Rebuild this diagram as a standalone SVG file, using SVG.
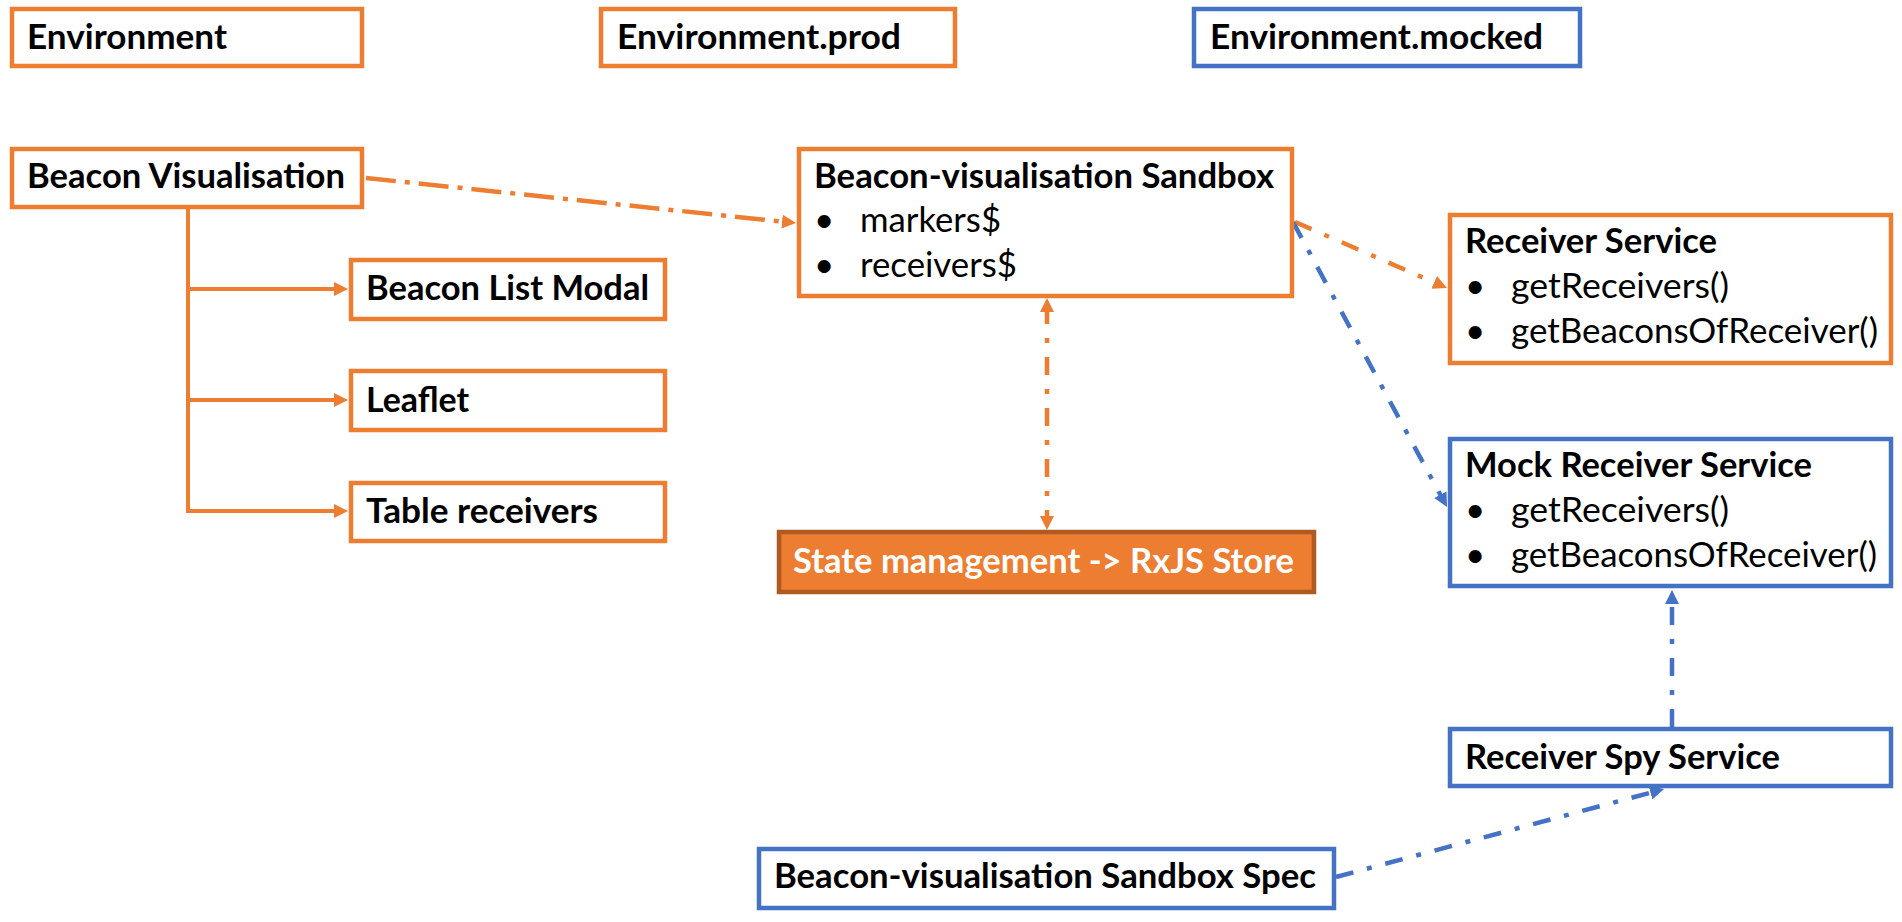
<svg xmlns="http://www.w3.org/2000/svg" width="1902" height="922" viewBox="0 0 1902 922">
<style>
  .bo { fill: #FFFFFF; stroke: #ED7D31; stroke-width: 4.5; }
  .bb { fill: #FFFFFF; stroke: #4472C4; stroke-width: 4.5; }
  .st { fill: #ED7D31; stroke: #AE5A21; stroke-width: 4.5; }
  .t { font-family: Lato, "Liberation Sans", sans-serif; font-weight: 700; font-size: 34px; fill: #000000; }
  .r { font-family: Lato, "Liberation Sans", sans-serif; font-weight: 400; font-size: 35px; fill: #000000; }
  .w { fill: #FFFFFF; }
  .co { fill: none; stroke: #ED7D31; stroke-width: 4.5; }
  .cb { fill: none; stroke: #4472C4; stroke-width: 4.5; }
  .solid { stroke-width: 4; }
  .dd { stroke-dasharray: 18 14 5 14; }
  .ld { stroke-dasharray: 30 9 5 9; }
</style>
<defs>
  <marker id="ao" markerUnits="userSpaceOnUse" markerWidth="16" markerHeight="16" refX="6" refY="7" orient="auto-start-reverse" viewBox="0 0 16 16">
    <path d="M0,0 L14,7 L0,14 z" fill="#ED7D31"/>
  </marker>
  <marker id="ab" markerUnits="userSpaceOnUse" markerWidth="16" markerHeight="16" refX="6" refY="7" orient="auto-start-reverse" viewBox="0 0 16 16">
    <path d="M0,0 L14,7 L0,14 z" fill="#4472C4"/>
  </marker>
</defs>
<rect width="1902" height="922" fill="#FFFFFF"/>

<g id="connectors">
  <path class="co solid" d="M188,209 V511 H340" marker-end="url(#ao)"/>
  <path class="co solid" d="M188,289 H340" marker-end="url(#ao)"/>
  <path class="co solid" d="M188,400 H340" marker-end="url(#ao)"/>
  <path class="co ld" d="M366,178 L788,222.2" marker-end="url(#ao)"/>
  <path class="co dd" d="M1295,222 L1439.7,284.8" marker-end="url(#ao)"/>
  <path class="cb dd" d="M1293,222 L1443.2,500" marker-end="url(#ab)"/>
  <path class="co dd" d="M1047,306 V522" marker-start="url(#ao)" marker-end="url(#ao)"/>
  <path class="cb dd" d="M1672,727 V598" marker-end="url(#ab)"/>
  <path class="cb dd" d="M1336,877 L1656.3,791.1" marker-end="url(#ab)"/>
</g>

<g id="environment">
  <rect class="bo" x="12" y="9" width="350" height="57"/>
  <text class="t" x="27" y="49" textLength="200" lengthAdjust="spacingAndGlyphs">Environment</text>
</g>
<g id="environment-prod">
  <rect class="bo" x="601" y="9" width="354" height="57"/>
  <text class="t" x="617" y="49" textLength="284" lengthAdjust="spacingAndGlyphs">Environment.prod</text>
</g>
<g id="environment-mocked">
  <rect class="bb" x="1194" y="9" width="386" height="57"/>
  <text class="t" x="1210" y="49" textLength="333" lengthAdjust="spacingAndGlyphs">Environment.mocked</text>
</g>

<g id="beacon-visualisation">
  <rect class="bo" x="12" y="149" width="350" height="58"/>
  <text class="t" x="27" y="188" textLength="318" lengthAdjust="spacingAndGlyphs">Beacon Visualisation</text>
</g>
<g id="beacon-list-modal">
  <rect class="bo" x="351" y="260" width="314" height="59"/>
  <text class="t" x="366" y="300" textLength="283" lengthAdjust="spacingAndGlyphs">Beacon List Modal</text>
</g>
<g id="leaflet">
  <rect class="bo" x="351" y="371" width="314" height="59"/>
  <text class="t" x="366" y="412" textLength="103" lengthAdjust="spacingAndGlyphs">Leaflet</text>
</g>
<g id="table-receivers">
  <rect class="bo" x="351" y="483" width="314" height="58"/>
  <text class="t" x="366" y="523" textLength="232" lengthAdjust="spacingAndGlyphs">Table receivers</text>
</g>

<g id="sandbox">
  <rect class="bo" x="799" y="149" width="493" height="147"/>
  <text class="t" x="814" y="188" textLength="460" lengthAdjust="spacingAndGlyphs">Beacon-visualisation Sandbox</text>
  <text class="r" x="814" y="232">•</text>
  <text class="r" x="860" y="232" textLength="141" lengthAdjust="spacingAndGlyphs">markers$</text>
  <text class="r" x="814" y="277">•</text>
  <text class="r" x="860" y="277" textLength="157" lengthAdjust="spacingAndGlyphs">receivers$</text>
</g>

<g id="receiver-service">
  <rect class="bo" x="1450" y="215" width="441" height="148"/>
  <text class="t" x="1465" y="253" textLength="252" lengthAdjust="spacingAndGlyphs">Receiver Service</text>
  <text class="r" x="1465" y="298">•</text>
  <text class="r" x="1511" y="298" textLength="218" lengthAdjust="spacingAndGlyphs">getReceivers()</text>
  <text class="r" x="1465" y="343">•</text>
  <text class="r" x="1511" y="343" textLength="367" lengthAdjust="spacingAndGlyphs">getBeaconsOfReceiver()</text>
</g>

<g id="mock-receiver-service">
  <rect class="bb" x="1450" y="439" width="441" height="147"/>
  <text class="t" x="1465" y="477" textLength="347" lengthAdjust="spacingAndGlyphs">Mock Receiver Service</text>
  <text class="r" x="1465" y="522">•</text>
  <text class="r" x="1511" y="522" textLength="218" lengthAdjust="spacingAndGlyphs">getReceivers()</text>
  <text class="r" x="1465" y="567">•</text>
  <text class="r" x="1511" y="567" textLength="366" lengthAdjust="spacingAndGlyphs">getBeaconsOfReceiver()</text>
</g>

<g id="state-management">
  <rect class="st" x="779" y="532" width="535" height="60"/>
  <text class="t w" x="793" y="573" textLength="501" lengthAdjust="spacingAndGlyphs">State management -&gt; RxJS Store</text>
</g>

<g id="receiver-spy-service">
  <rect class="bb" x="1450" y="729" width="441" height="57"/>
  <text class="t" x="1465" y="769" textLength="315" lengthAdjust="spacingAndGlyphs">Receiver Spy Service</text>
</g>

<g id="sandbox-spec">
  <rect class="bb" x="759" y="849" width="575" height="59"/>
  <text class="t" x="774" y="888" textLength="542" lengthAdjust="spacingAndGlyphs">Beacon-visualisation Sandbox Spec</text>
</g>
</svg>
